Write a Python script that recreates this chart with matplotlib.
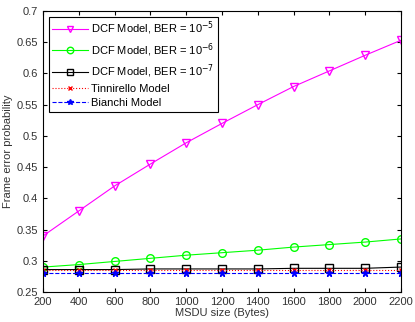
import matplotlib
matplotlib.use("Agg")
import matplotlib.pyplot as plt

plt.rcParams['font.family'] = ['Liberation Sans', 'DejaVu Sans']

msdu = [200, 400, 600, 800, 1000, 1200, 1400, 1600, 1800, 2000, 2200]
dcf_1e5 = [0.340, 0.380, 0.420, 0.455, 0.489, 0.520, 0.550, 0.579, 0.604, 0.629, 0.653]
dcf_1e6 = [0.290, 0.294, 0.299, 0.304, 0.309, 0.313, 0.317, 0.322, 0.326, 0.330, 0.335]
dcf_1e7 = [0.286, 0.286, 0.286, 0.287, 0.287, 0.287, 0.287, 0.288, 0.288, 0.288, 0.290]
tinnirello = [0.285] * 11
bianchi = [0.280] * 11

fig = plt.figure(figsize=(4.15, 3.22), dpi=100)
ax = fig.add_axes([0.104, 0.093, 0.862, 0.873])

ax.plot(msdu, dcf_1e5, color='#ff00ff', marker='v', mfc='none', ms=5.5, lw=0.8,
        label=r'DCF Model, BER = 10$^{-5}$')
ax.plot(msdu, dcf_1e6, color='#00ff00', marker='o', mfc='none', ms=5.5, lw=0.8,
        label=r'DCF Model, BER = 10$^{-6}$')
ax.plot(msdu, dcf_1e7, color='black', marker='s', mfc='none', ms=5.5, lw=0.8,
        label=r'DCF Model, BER = 10$^{-7}$')
ax.plot(msdu, tinnirello, color='red', ls=':', marker='x', ms=3.5, lw=0.8,
        label='Tinnirello Model')
ax.plot(msdu, bianchi, color='blue', ls='--', marker='*', ms=5, lw=0.8,
        label='Bianchi Model')

ax.set_xlim(200, 2200)
ax.set_ylim(0.25, 0.7)
ax.set_xticks(msdu)
ax.set_yticks([0.25, 0.3, 0.35, 0.4, 0.45, 0.5, 0.55, 0.6, 0.65, 0.7])
ax.set_yticklabels(['0.25', '0.3', '0.35', '0.4', '0.45', '0.5', '0.55', '0.6', '0.65', '0.7'])
ax.tick_params(direction='in', labelsize=8, top=True, right=True, length=3,
               labelcolor='#333333')
ax.set_xlabel('MSDU size (Bytes)', fontsize=8, labelpad=1, color='#333333')
ax.set_ylabel('Frame error probability', fontsize=8, labelpad=3, color='#333333')

leg = ax.legend(loc='upper left', fontsize=8, frameon=True, fancybox=False,
                edgecolor='black', framealpha=1, borderaxespad=0.5,
                handlelength=3.2, labelspacing=0.35, borderpad=0.3, handletextpad=0.3,
                markerscale=0.85)
leg.get_frame().set_linewidth(0.8)

fig.savefig('out.png', dpi=100)
